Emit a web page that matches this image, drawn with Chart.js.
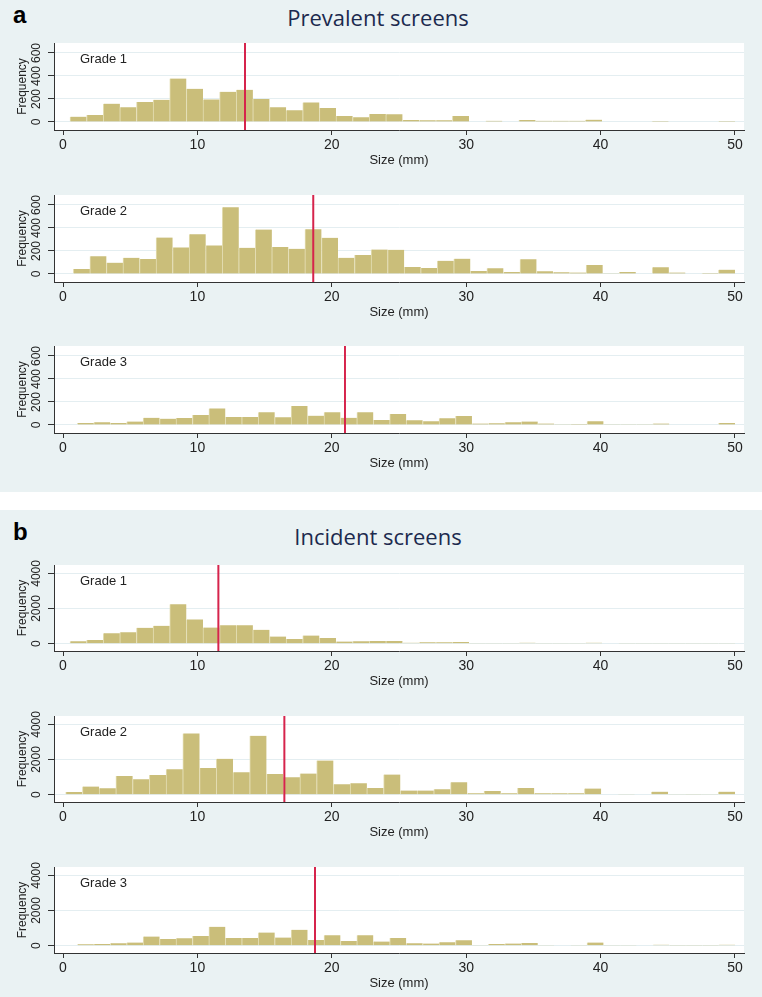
<!DOCTYPE html>
<html>
<head>
<meta charset="utf-8">
<script src="https://cdn.jsdelivr.net/npm/chart.js@4.4.0/dist/chart.umd.min.js"></script>
<style>
  body { margin: 0; background: #fff; width: 762px; height: 997px; position: relative; overflow: hidden; }
  .panel { position: absolute; left: 0; width: 762px; background: rgb(234, 242, 243); }
  .letter { position: absolute; left: 13px; font: bold 24px "Liberation Sans", Arial, sans-serif; line-height: 24px; color: #000; }
  .title { position: absolute; left: 0; width: 756px; text-align: center; font: 22px "Open Sans", sans-serif; line-height: 30px; color: #1c2a4e; }
  canvas { position: absolute; left: 0; }
</style>
</head>
<body>
<div class="panel" style="top:0;height:492px"></div>
<div class="panel" style="top:510px;height:487px"></div>
<div class="letter" style="top:3px">a</div>
<div class="letter" style="top:520px">b</div>
<div class="title" style="top:2px">Prevalent screens</div>
<div class="title" style="top:521px">Incident screens</div>

<canvas id="a1" width="762" height="137" style="top:33px"></canvas>
<canvas id="a2" width="762" height="137" style="top:185px"></canvas>
<canvas id="a3" width="762" height="137" style="top:336px"></canvas>
<canvas id="b1" width="762" height="136" style="top:555px"></canvas>
<canvas id="b2" width="762" height="136" style="top:706px"></canvas>
<canvas id="b3" width="762" height="136" style="top:857px"></canvas>

<script>
// Frequencies per bin, 40 bins from binStart up to 50 mm
const prevGrade1 = [46, 60, 159, 127, 173, 193, 378, 288, 196, 262, 280, 199, 127, 101, 170, 121, 52, 40, 69, 66,
  17, 15, 15, 52, 3, 10, 5, 17, 10, 10, 10, 20, 3, 5, 3, 8, 0, 0, 5, 8];
const prevGrade2 = [43, 153, 98, 141, 130, 317, 231, 346, 248, 580, 228, 386, 234, 219, 389, 314, 141, 164, 213, 210,
  61, 52, 115, 133, 26, 49, 17, 127, 23, 14, 12, 78, 6, 17, 3, 58, 12, 3, 9, 37];
const prevGrade3 = [17, 23, 17, 29, 63, 55, 61, 87, 144, 69, 69, 110, 66, 164, 81, 110, 63, 110, 43, 95,
  40, 32, 58, 78, 12, 14, 23, 29, 12, 2, 9, 32, 2, 6, 2, 12, 3, 3, 3, 17];
const incGrade1 = [134, 210, 593, 650, 900, 1014, 2239, 1378, 919, 1053, 1053, 785, 402, 268, 459, 325, 115, 134, 153, 153,
  57, 77, 77, 96, 38, 38, 38, 57, 38, 38, 38, 57, 0, 38, 38, 38, 38, 38, 38, 38];
const incGrade2 = [152, 457, 362, 1067, 876, 1124, 1448, 3486, 1524, 2038, 1276, 3352, 1181, 990, 1200, 1943, 590, 648, 381, 1143,
  229, 229, 305, 705, 76, 210, 76, 381, 76, 76, 76, 343, 19, 38, 19, 171, 38, 5, 38, 171];
const incGrade3 = [77, 96, 134, 172, 517, 383, 421, 555, 1072, 440, 440, 746, 459, 900, 325, 593, 268, 593, 230, 440,
  134, 115, 191, 306, 38, 96, 115, 153, 38, 19, 38, 172, 38, 38, 19, 57, 10, 10, 10, 57];

// where the first bin starts (mm)
const prevBinStart = [0.52, 0.77, 1.07];
const incBinStart = [0.52, 0.2, 1.07];
const binMax = 50;

// red reference lines (mm)
const prevMarkers = [13.54, 18.62, 20.98];
const incMarkers = [11.56, 16.47, 18.75];

const grades = ['Grade 1', 'Grade 2', 'Grade 3'];
const xTicks = [0, 10, 20, 30, 40, 50];
const prevTicks = [0, 200, 400, 600];
const incTicks = [0, 2000, 4000];

const font = '"Liberation Sans", Arial, sans-serif';
const narrow = '"Liberation Sans Narrow", "Arial Narrow", "Liberation Sans", sans-serif';
const barColor = 'rgb(202, 190, 122)';
const barEdge = 'rgb(228, 222, 180)';
const gridColor = 'rgb(228, 238, 241)';
const axisColor = '#333';

// white plot area + grade label
const plotBg = {
  id: 'plotBg',
  beforeDraw(chart) {
    const { ctx, chartArea: a } = chart;
    ctx.save();
    ctx.fillStyle = '#fff';
    ctx.fillRect(a.left, a.top, a.right - a.left, a.bottom - a.top);
    ctx.restore();
  },
  afterDraw(chart, args, opts) {
    const { ctx, chartArea: a } = chart;
    ctx.save();
    ctx.fillStyle = '#222';
    ctx.font = '13px ' + font;
    ctx.textBaseline = 'middle';
    ctx.fillText(opts.label, a.left + 26, a.top + 16);
    ctx.restore();
  }
};

function makeHist(id, values, start, marker, label, yMin, yMax, yTicks, yPad) {
  const w = (binMax - start) / values.length;
  new Chart(document.getElementById(id), {
    type: 'bar',
    data: {
      datasets: [{
        type: 'line',
        data: [{ x: marker, y: yMin }, { x: marker, y: yMax }],
        borderColor: 'rgb(214, 36, 76)',
        borderWidth: 2,
        pointRadius: 0,
        order: 0
      }, {
        data: values.map((v, i) => ({ x: start + (i + 0.5) * w, y: v })),
        backgroundColor: barColor,
        borderColor: barEdge,
        borderWidth: { left: 1, right: 0, top: 0, bottom: 0 },
        borderSkipped: false,
        barPercentage: 1,
        categoryPercentage: 1,
        order: 1
      }]
    },
    options: {
      responsive: false,
      animation: false,
      layout: { autoPadding: false, padding: { top: 10, right: 18, left: 0, bottom: 0 } },
      plugins: { legend: { display: false }, tooltip: { enabled: false }, plotBg: { label } },
      scales: {
        x: {
          type: 'linear',
          min: -0.67,
          max: 50.67,
          offset: false,
          afterBuildTicks: s => { s.ticks = xTicks.map(v => ({ value: v })); },
          afterFit: s => { s.height = 40; s.paddingLeft = 0; s.paddingRight = 0; },
          ticks: { padding: 2, maxRotation: 0, color: '#222', font: { family: narrow, size: 14 } },
          grid: { drawOnChartArea: false, offset: false, tickLength: 5, tickColor: axisColor },
          border: { color: axisColor },
          title: { display: true, text: 'Size (mm)', color: '#222', font: { family: font, size: 13 }, padding: { top: 0, bottom: 2 } }
        },
        y: {
          min: yMin,
          max: yMax,
          afterBuildTicks: s => { s.ticks = yTicks.map(v => ({ value: v })); },
          afterFit: s => { s.width = 54; s.paddingTop = 0; s.paddingBottom = 0; },
          ticks: {
            minRotation: 90, maxRotation: 90, crossAlign: 'center', padding: yPad,
            color: '#222', font: { family: narrow, size: 12 },
            callback: v => String(v)
          },
          grid: { color: gridColor, tickLength: 6, tickColor: axisColor },
          border: { color: axisColor },
          title: { display: true, text: 'Frequency', color: '#222', font: { family: font, size: 12 }, padding: { top: 15, bottom: 0 } }
        }
      }
    },
    plugins: [plotBg]
  });
}

const prevData = [prevGrade1, prevGrade2, prevGrade3];
const incData = [incGrade1, incGrade2, incGrade3];

prevData.forEach((d, i) => makeHist('a' + (i + 1), d, prevBinStart[i], prevMarkers[i], grades[i], -70, 687, prevTicks, 1));
incData.forEach((d, i) => makeHist('b' + (i + 1), d, incBinStart[i], incMarkers[i], grades[i], -420, 4480, incTicks, -2));
</script>
</body>
</html>
